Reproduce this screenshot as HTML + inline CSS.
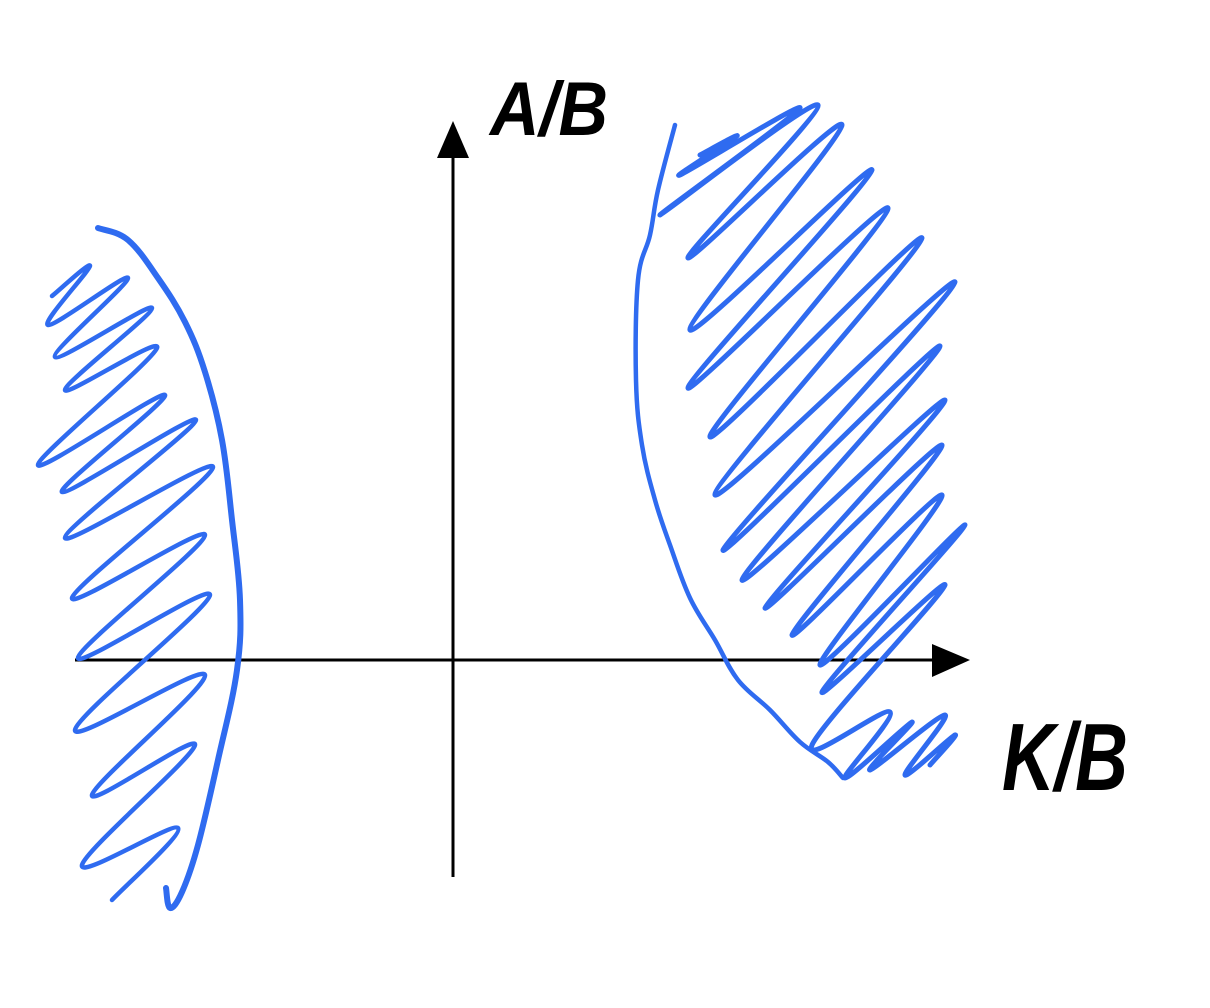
<!DOCTYPE html>
<html><head><meta charset="utf-8"><style>
html,body{margin:0;padding:0;background:#fff;width:1210px;height:1008px;overflow:hidden}
svg{display:block}
.lbl{font-family:"Liberation Sans",sans-serif;font-weight:bold;font-style:italic;fill:#000}
</style></head><body>
<svg id="chart" width="1210" height="1008" viewBox="0 0 1210 1008">
  <g>
    <line x1="453" y1="150" x2="453" y2="877" stroke="#000" stroke-width="3"/>
    <polygon points="437,158 453,121 469,158" fill="#000"/>
  </g>
  <g>
    <line x1="75" y1="660" x2="940" y2="660" stroke="#000" stroke-width="3"/>
    <polygon points="932,644 970,660 932,677" fill="#000"/>
  </g>
  <text class="lbl" x="490" y="135" font-size="76" textLength="118" lengthAdjust="spacingAndGlyphs">A/B</text>
  <text class="lbl" x="1002" y="790" font-size="96" textLength="126" lengthAdjust="spacingAndGlyphs">K/B</text>
  <g id="marks"></g>
</svg>
<script>
const leftBoundary=[[98,228],[128,240],[158,278],[185,322],[205,372],[222,440],[232,520],[240,600],[237,670],[218,760],[198,845],[182,892],[170,908],[166,888]];
const leftHatch=[[52,296],[90,266],[48,325],[128,278],[55,357],[152,308],[65,390],[157,348],[38,465],[165,395],[62,492],[196,420],[65,538],[213,467],[72,598],[205,535],[78,658],[210,595],[75,730],[205,675],[92,795],[195,745],[82,865],[178,828],[112,900]];
const rightBoundary=[[675,125],[658,190],[650,235],[638,280],[636,380],[642,445],[655,500],[670,545],[690,598],[715,640],[738,680],[770,710],[800,742],[828,762],[843,778]];
const rightHatch=[[700,155],[737,136],[680,175],[800,108],[660,215],[818,105],[688,258],[842,125],[690,330],[872,170],[688,388],[888,208],[710,437],[922,238],[715,495],[955,282],[723,550],[940,346],[742,580],[945,400],[765,608],[942,445],[792,635],[942,495],[820,665],[965,525],[822,692],[945,585],[812,745],[890,712],[845,778],[912,722],[870,770],[945,715],[905,775],[955,735],[930,765]];
const NS='http://www.w3.org/2000/svg';
const g=document.getElementById('marks');
function smooth(p){let d='M'+p[0][0]+','+p[0][1];for(let i=0;i<p.length-1;i++){const a=p[Math.max(i-1,0)],b=p[i],c=p[i+1],e=p[Math.min(i+2,p.length-1)];const t=0.18;d+=' C'+(b[0]+(c[0]-a[0])*t)+','+(b[1]+(c[1]-a[1])*t)+' '+(c[0]-(e[0]-b[0])*t)+','+(c[1]-(e[1]-b[1])*t)+' '+c[0]+','+c[1];}return d;}
function draw(p,w,name){const el=document.createElementNS(NS,'path');el.setAttribute('d',smooth(p));el.setAttribute('fill','none');el.setAttribute('stroke','#2f6bf0');el.setAttribute('stroke-width',w);el.setAttribute('stroke-linejoin','round');el.setAttribute('stroke-linecap','round');


g.appendChild(el);}
draw(leftHatch,4.5,'left-region-hatch');
draw(leftBoundary,6,'left-region-boundary');
draw(rightHatch,5,'right-region-hatch');
draw(rightBoundary,4.5,'right-region-boundary');
</script>
</body></html>
